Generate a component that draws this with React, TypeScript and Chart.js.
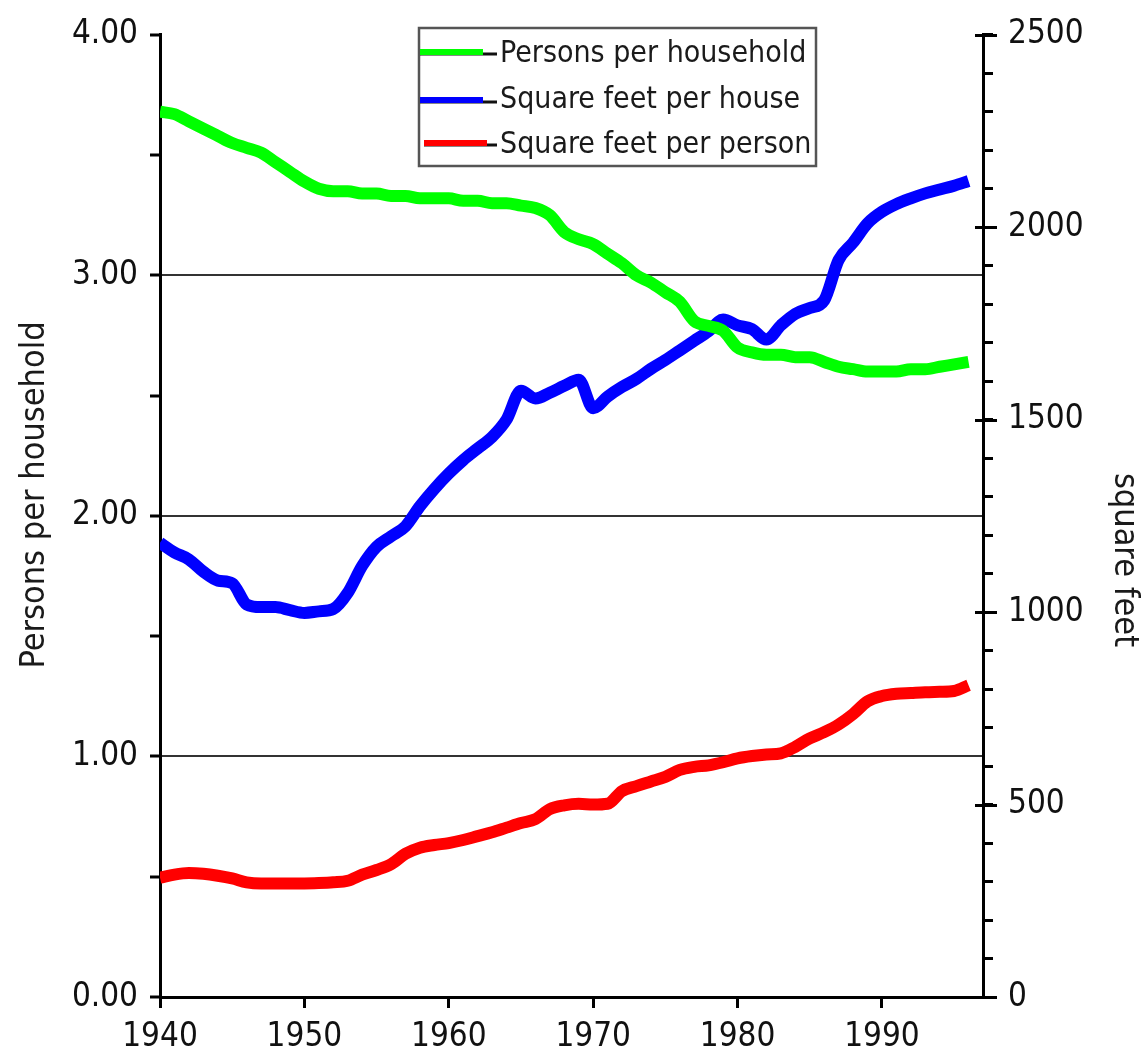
import { useEffect, useRef } from "react";
import { Chart, registerables } from "chart.js";

Chart.register(...registerables);

const years = [
  1940, 1941, 1942, 1943, 1944, 1945, 1946, 1947, 1948, 1949,
  1950, 1951, 1952, 1953, 1954, 1955, 1956, 1957, 1958, 1959,
  1960, 1961, 1962, 1963, 1964, 1965, 1966, 1967, 1968, 1969,
  1970, 1971, 1972, 1973, 1974, 1975, 1976, 1977, 1978, 1979,
  1980, 1981, 1982, 1983, 1984, 1985, 1986, 1987, 1988, 1989,
  1990, 1991, 1992, 1993, 1994, 1995, 1996,
];

const personsPerHousehold = [
  3.68, 3.67, 3.64, 3.61, 3.58, 3.55, 3.53, 3.51, 3.47, 3.43,
  3.39, 3.36, 3.35, 3.35, 3.34, 3.34, 3.33, 3.33, 3.32, 3.32,
  3.32, 3.31, 3.31, 3.30, 3.30, 3.29, 3.28, 3.25, 3.18, 3.15,
  3.13, 3.09, 3.05, 3.00, 2.97, 2.93, 2.89, 2.81, 2.79, 2.77,
  2.70, 2.68, 2.67, 2.67, 2.66, 2.66, 2.64, 2.62, 2.61, 2.60,
  2.60, 2.60, 2.61, 2.61, 2.62, 2.63, 2.64,
];

const sqftPerHouse = [
  1180, 1155, 1137, 1105, 1082, 1075, 1020, 1013, 1013, 1005,
  998, 1002, 1008, 1050, 1120, 1170, 1197, 1223, 1275, 1320,
  1360, 1395, 1425, 1455, 1500, 1575, 1555, 1570, 1588, 1604,
  1530, 1560, 1585, 1606, 1632, 1655, 1680, 1705, 1730, 1760,
  1745, 1735, 1708, 1745, 1775, 1790, 1810, 1915, 1960, 2010,
  2040, 2060, 2075, 2088, 2098, 2108, 2120,
];

const sqftPerPerson = [
  310, 318, 322, 320, 315, 308, 298, 295, 295, 295,
  295, 296, 298, 302, 318, 330, 345, 372, 388, 395,
  400, 408, 418, 428, 440, 452, 462, 488, 498, 502,
  500, 502, 535, 548, 560, 572, 590, 598, 602, 610,
  620, 626, 630, 633, 650, 672, 688, 708, 735, 768,
  782, 788, 790, 792, 793, 795, 810,
];

const xTickYears = [1940, 1950, 1960, 1970, 1980, 1990];
const leftLabelValues = [0, 1, 2, 3, 4];
const leftGridValues = [1, 2, 3];
const rightMajorValues = [0, 500, 1000, 1500, 2000, 2500];

const seriesLabels = ["Persons per household", "Square feet per house", "Square feet per person"];
const seriesColors = ["#00ff00", "#0000ff", "#ff0000"];

const leftTitle = "Persons per household";
const rightTitle = "square feet";

const FONT = "'Liberation Sans Narrow', 'DejaVu Sans Condensed', 'Liberation Sans', sans-serif";

export default function App() {
  const ref = useRef<HTMLCanvasElement | null>(null);

  useEffect(() => {
    if (!ref.current) return;

    const overlay = {
      id: "overlay",
      afterDraw(chart: any) {
        const ctx = chart.ctx as CanvasRenderingContext2D;
        const y2 = chart.scales.y2;
        ctx.save();
        // major ticks on right axis crossing the axis line
        ctx.strokeStyle = "#000";
        ctx.lineWidth = 3;
        for (const v of rightMajorValues) {
          const py = Math.round(y2.getPixelForValue(v)) + 0.5;
          ctx.beginPath();
          ctx.moveTo(y2.left - 8, py);
          ctx.lineTo(y2.left + 14, py);
          ctx.stroke();
        }
        // axis titles
        ctx.fillStyle = "#1a1a1a";
        ctx.font = `34px ${FONT}`;
        ctx.textAlign = "center";
        ctx.textBaseline = "middle";
        ctx.save();
        ctx.translate(35, 495);
        ctx.rotate(-Math.PI / 2);
        ctx.fillText(leftTitle, 0, 0);
        ctx.restore();
        ctx.save();
        ctx.translate(1124, 560);
        ctx.rotate(Math.PI / 2);
        ctx.fillText(rightTitle, 0, 0);
        ctx.restore();
        // legend box
        const bx = 419, by = 28, bw = 397, bh = 138;
        ctx.fillStyle = "#ffffff";
        ctx.fillRect(bx, by, bw, bh);
        ctx.strokeStyle = "#555";
        ctx.lineWidth = 2.5;
        ctx.strokeRect(bx, by, bw, bh);
        const rowY = [52, 100, 143];
        const baseY = [62, 108, 153];
        ctx.font = `30px ${FONT}`;
        ctx.textBaseline = "alphabetic";
        ctx.textAlign = "left";
        seriesLabels.forEach((lab, i) => {
          const y = rowY[i];
          ctx.strokeStyle = "#111";
          ctx.lineWidth = 3;
          ctx.beginPath();
          ctx.moveTo(i === 2 ? 424 : 420, y + 2);
          ctx.lineTo(497, y + 2);
          ctx.stroke();
          ctx.strokeStyle = seriesColors[i];
          ctx.lineWidth = 6;
          ctx.beginPath();
          ctx.moveTo(i === 2 ? 424 : 420, y);
          ctx.lineTo(i === 2 ? 487 : 483, y);
          ctx.stroke();
          ctx.fillStyle = "#1a1a1a";
          ctx.fillText(lab, 500, baseY[i]);
        });
        ctx.restore();
      },
    };

    const mk = (arr: number[]) => years.map((yr, i) => ({ x: yr, y: arr[i] }));
    const ds = (i: number, arr: number[], axis: string) => ({
      label: seriesLabels[i],
      data: mk(arr),
      yAxisID: axis,
      borderColor: seriesColors[i],
      borderWidth: 12,
      pointRadius: 0,
      tension: 0.4,
      cubicInterpolationMode: "monotone",
      borderJoinStyle: "round",
      fill: false,
    });

    const chart = new Chart(ref.current, {
      type: "line",
      data: {
        datasets: [
          ds(0, personsPerHousehold, "y"),
          ds(1, sqftPerHouse, "y2"),
          ds(2, sqftPerPerson, "y2"),
        ],
      },
      options: {
        responsive: false,
        animation: false,
        devicePixelRatio: 1,
        layout: { padding: { top: 32, left: 0, right: 0, bottom: 0 } },
        plugins: { legend: { display: false }, tooltip: { enabled: false } },
        scales: {
          x: {
            type: "linear",
            min: 1940,
            max: 1997,
            afterBuildTicks: (s: any) => {
              s.ticks = xTickYears.map((v) => ({ value: v }));
            },
            afterFit: (s: any) => {
              s.height = 63;
            },
            ticks: {
              callback: (v: any) => String(v),
              font: { family: FONT, size: 33 },
              color: "#111",
              padding: 10,
              maxRotation: 0,
              autoSkip: false,
            },
            grid: {
              drawOnChartArea: false,
              tickLength: 11,
              tickColor: "#000",
              tickWidth: 3,
            },
            border: { color: "#000", width: 3 },
          },
          y: {
            type: "linear",
            position: "left",
            min: 0,
            max: 4,
            ticks: {
              stepSize: 0.5,
              callback: (v: any) => (leftLabelValues.includes(v) ? Number(v).toFixed(2) : ""),
              font: { family: FONT, size: 33 },
              color: "#111",
              padding: 12,
              autoSkip: false,
            },
            afterFit: (s: any) => {
              s.width = 160;
            },
            grid: {
              color: (c: any) => (c.tick && leftGridValues.includes(c.tick.value) ? "#333" : "rgba(0,0,0,0)"),
              lineWidth: 2,
              tickColor: "#000",
              tickWidth: 3,
              tickLength: 10,
            },
            border: { color: "#000", width: 3 },
          },
          y2: {
            type: "linear",
            position: "right",
            min: 0,
            max: 2500,
            ticks: {
              stepSize: 100,
              callback: (v: any) => (rightMajorValues.includes(v) ? String(v) : ""),
              font: { family: FONT, size: 33 },
              color: "#111",
              padding: 15,
              autoSkip: false,
            },
            afterFit: (s: any) => {
              s.width = 163;
            },
            grid: {
              drawOnChartArea: false,
              tickColor: "#000",
              tickWidth: 3,
              tickLength: 10,
            },
            border: { color: "#000", width: 3 },
          },
        },
      },
      plugins: [overlay],
    } as any);

    return () => chart.destroy();
  }, []);

  return (
    <div style={{ position: "absolute", left: 0, top: 0, width: 1146, height: 1060, background: "#fff" }}>
      <canvas ref={ref} width={1146} height={1060} style={{ width: 1146, height: 1060, display: "block" }} />
    </div>
  );
}
